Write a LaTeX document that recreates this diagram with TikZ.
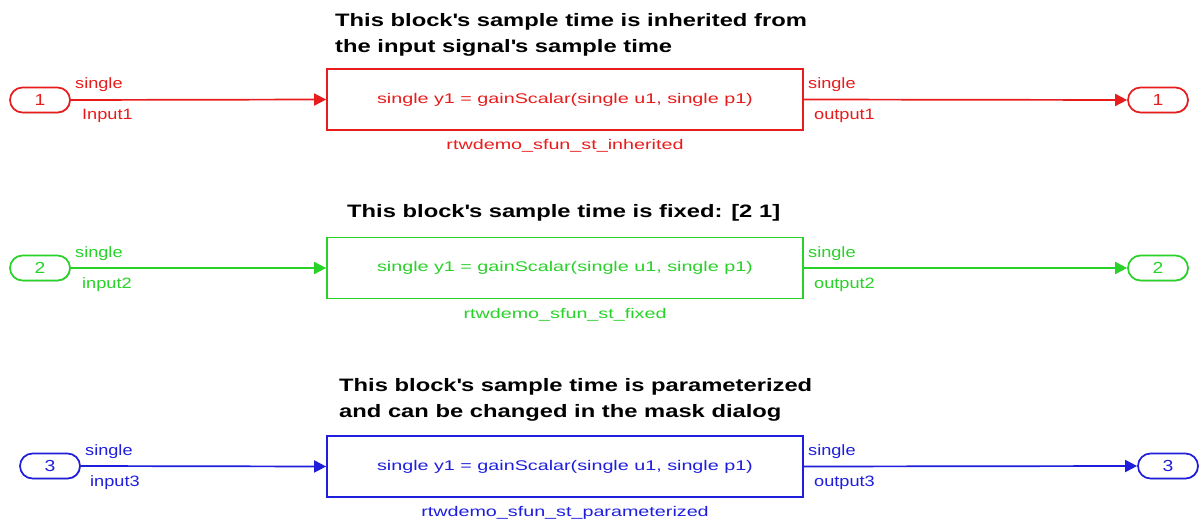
\documentclass[tikz,border=0pt]{standalone}
\usepackage{fontspec}
\setmainfont{Liberation Sans}
\newfontfamily\blkfont[FakeStretch=1.41]{Liberation Sans}
\newfontfamily\lblfont[FakeStretch=1.21]{Liberation Sans}
\newfontfamily\ttlfont[FakeStretch=1.32]{Liberation Sans}
\usetikzlibrary{arrows.meta,shapes.misc,shadows}
\definecolor{sred}{RGB}{232,28,28}
\definecolor{sgreen}{RGB}{40,210,40}
\definecolor{sblue}{RGB}{30,30,220}
\begin{document}
\begin{tikzpicture}[x=1pt,y=-1pt,
  port/.style={rounded rectangle, draw=#1, text=#1, line width=1.7pt, minimum width=60pt, minimum height=25pt,
    inner sep=0pt, fill=white, font=\lblfont\fontsize{16}{18}\selectfont,
    drop shadow={opacity=0.3, shadow xshift=0.8pt, shadow yshift=-0.8pt, fill=black}},
  blk/.style={draw=#1, text=#1, line width=1.7pt, minimum width=476pt, minimum height=61pt, inner sep=0pt,
    font=\blkfont\fontsize{14}{16}\selectfont},
  sig/.style={line width=1.7pt, draw=#1, -{Triangle[length=12pt,width=12pt,fill=#1]}},
  lbl/.style={anchor=base west, inner sep=0pt, text=#1, font=\lblfont\fontsize{15}{17}\selectfont},
  bname/.style={inner sep=0pt, text=#1, font=\blkfont\fontsize{14}{16}\selectfont},
  ttl/.style={anchor=west, align=left, inner sep=0pt, font=\ttlfont\bfseries\fontsize{18}{26}\selectfont}]
\useasboundingbox[fill=white] (0,0) rectangle (1199,524);

% ---- row 1 (red)
\node[ttl] (t1) at (335,35) {This block\textquotesingle s sample time is inherited from\\the input signal\textquotesingle s sample time};
\node[port=sred] (in1) at (40,100) {1};
\node[blk=sred] (b1) at (565,99.5) {single y1 = gainScalar(single u1, single p1)};
\node[port=sred] (out1) at (1158,100) {1};
\node[bname=sred] (n1) at (565,146) {rtwdemo\_sfun\_st\_inherited};
\draw[sig=sred] (in1.east) -- (b1.west);
\draw[sig=sred] (b1.east) -- (out1.west);
\node[lbl=sred] (s1a) at (75,89) {single};
\node[lbl=sred] (l1a) at (82,120) {Input1};
\node[lbl=sred] (s1b) at (808,89) {single};
\node[lbl=sred] (l1b) at (814,120) {output1};

% ---- row 2 (green)
\node[ttl] (t2) at (347,213) {This block\textquotesingle s sample time is fixed: [2 1]};
\node[port=sgreen] (in2) at (40,268) {2};
\node[blk=sgreen] (b2) at (565,268) {single y1 = gainScalar(single u1, single p1)};
\node[port=sgreen] (out2) at (1158,268) {2};
\node[bname=sgreen] (n2) at (565,315) {rtwdemo\_sfun\_st\_fixed};
\draw[sig=sgreen] (in2.east) -- (b2.west);
\draw[sig=sgreen] (b2.east) -- (out2.west);
\node[lbl=sgreen] (s2a) at (75,257) {single};
\node[lbl=sgreen] (l2a) at (82,288) {input2};
\node[lbl=sgreen] (s2b) at (808,257) {single};
\node[lbl=sgreen] (l2b) at (814,288) {output2};

% ---- row 3 (blue)
\node[ttl] (t3) at (339,400) {This block\textquotesingle s sample time is parameterized\\and can be changed in the mask dialog};
\node[port=sblue] (in3) at (50,466) {3};
\node[blk=sblue] (b3) at (565,466.5) {single y1 = gainScalar(single u1, single p1)};
\node[port=sblue] (out3) at (1168,466) {3};
\node[bname=sblue] (n3) at (565,513) {rtwdemo\_sfun\_st\_parameterized};
\draw[sig=sblue] (in3.east) -- (b3.west);
\draw[sig=sblue] (b3.east) -- (out3.west);
\node[lbl=sblue] (s3a) at (85,455) {single};
\node[lbl=sblue] (l3a) at (90,486) {input3};
\node[lbl=sblue] (s3b) at (808,455) {single};
\node[lbl=sblue] (l3b) at (814,486) {output3};
\end{tikzpicture}
\end{document}
